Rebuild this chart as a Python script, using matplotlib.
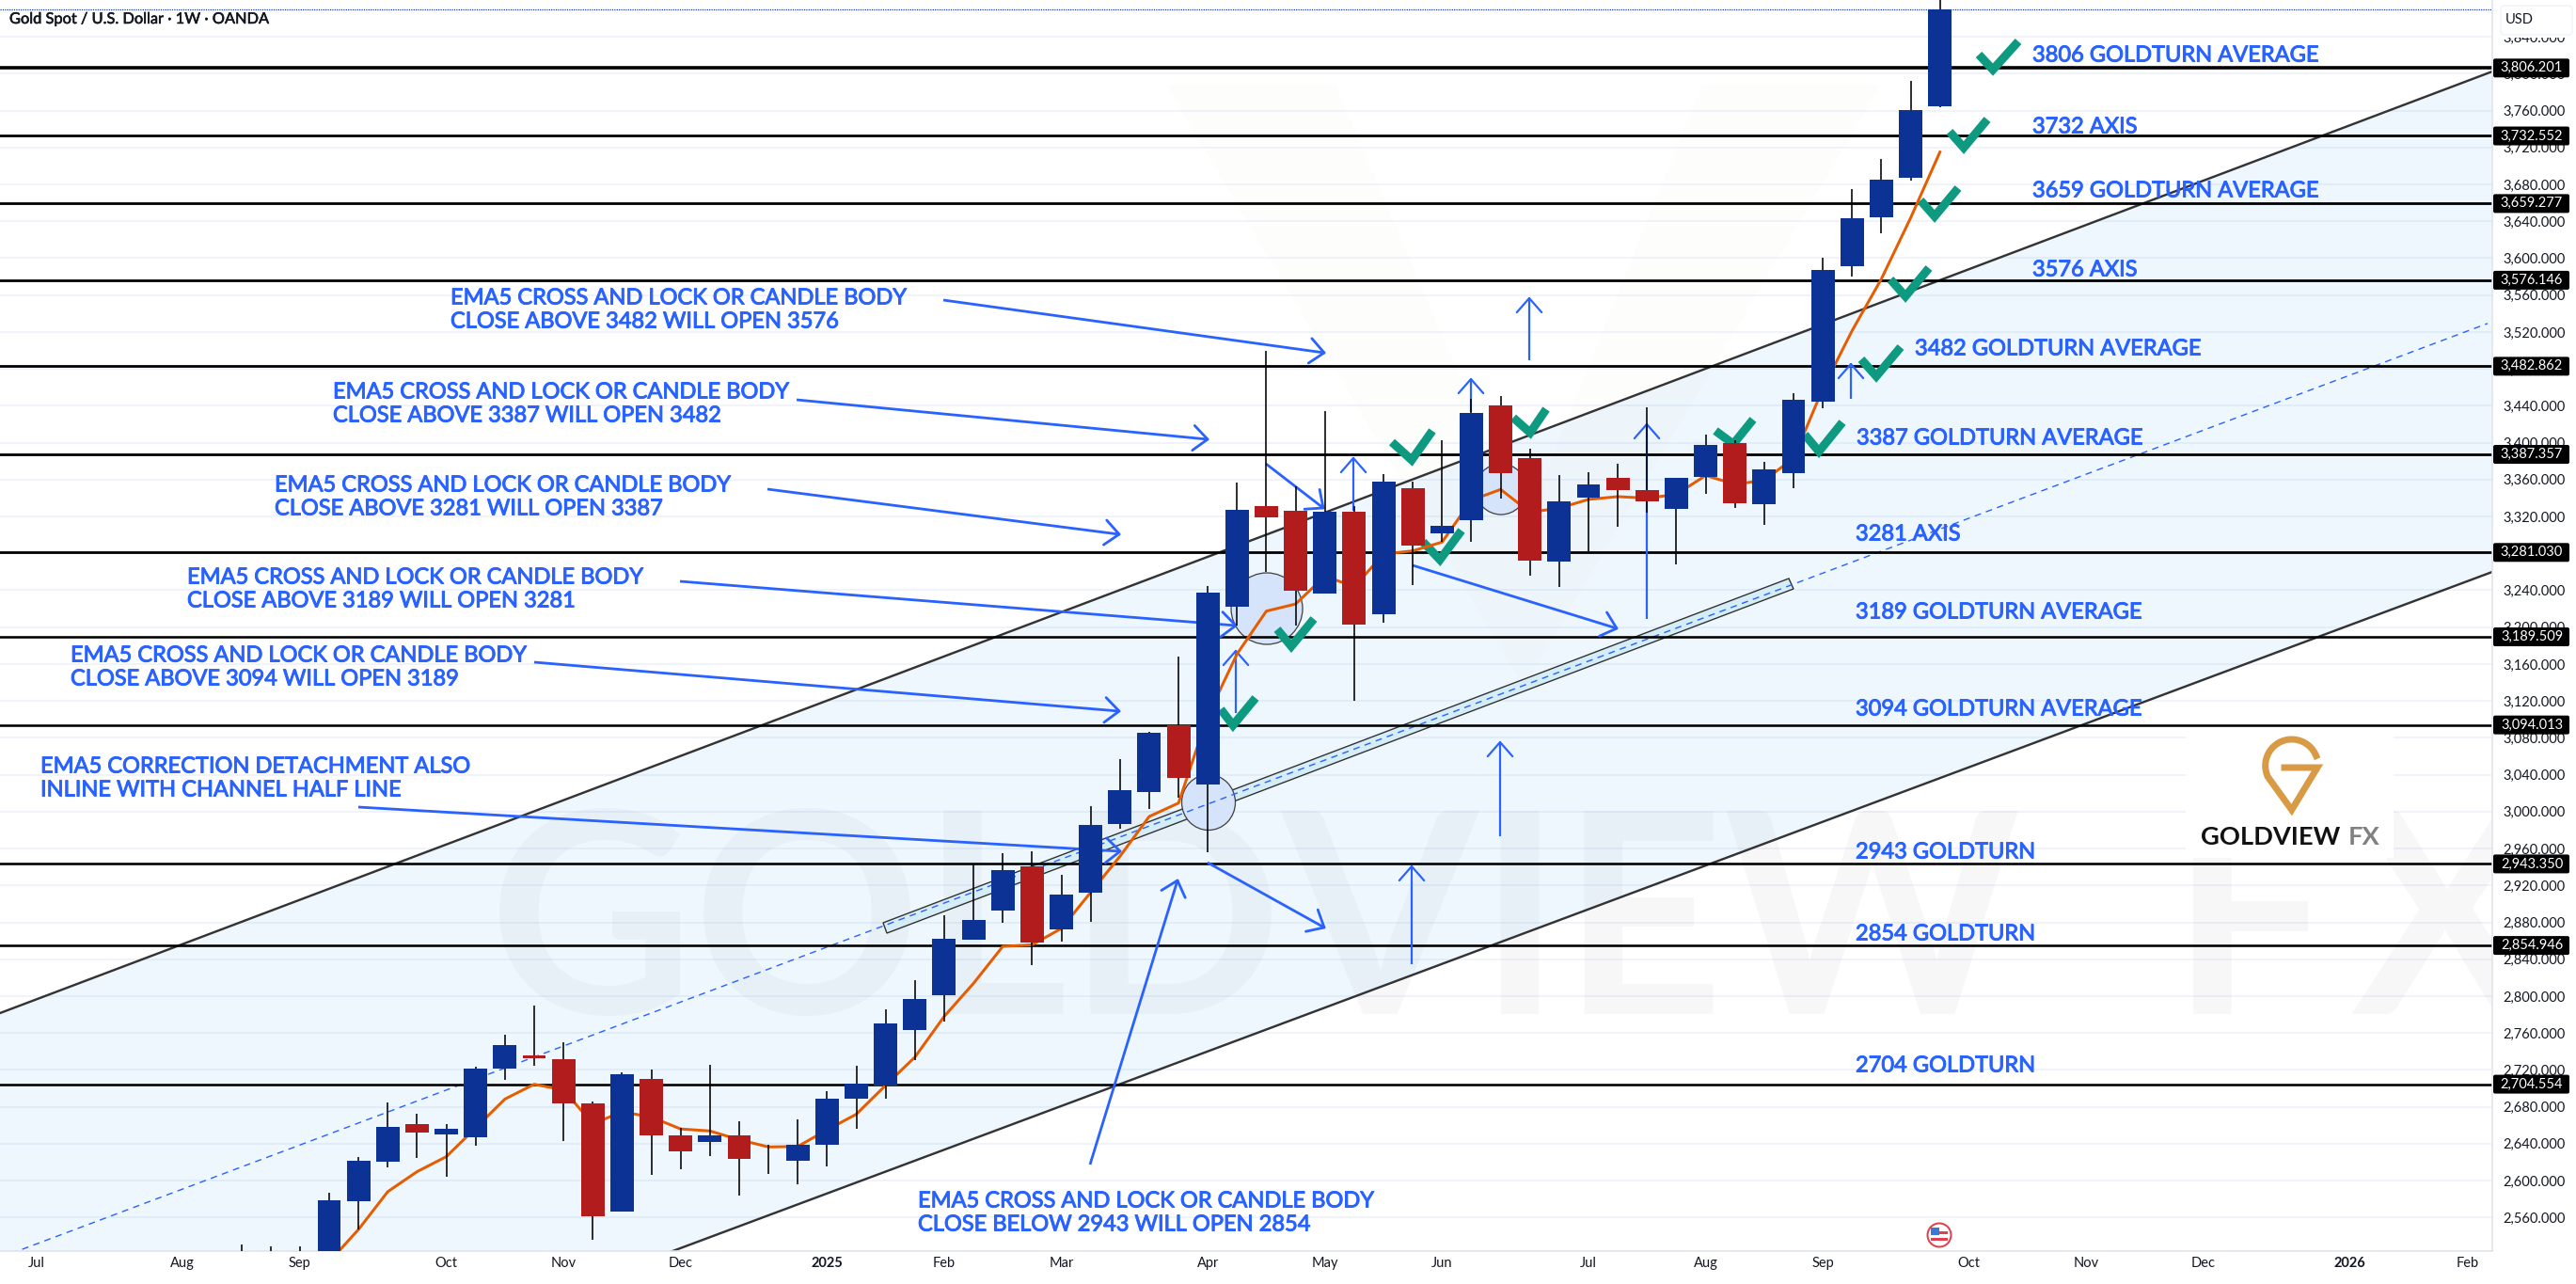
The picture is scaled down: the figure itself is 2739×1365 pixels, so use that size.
import numpy as np
import matplotlib
matplotlib.use('Agg')
import matplotlib.pyplot as plt
import matplotlib.patheffects as pe
from matplotlib.patches import Polygon, Ellipse, FancyBboxPatch, Circle, Rectangle
from matplotlib.transforms import Affine2D

# weekly candles, index 0 is the big blue one at the start of september 2024
weeks = list(range(-3, 56))
opens = [2505, 2512, 2505, 2500, 2578.1, 2620, 2661.6, 2650.3, 2647.3, 2721.7, 2735.9, 2732, 2683.2, 2566,
         2710.4, 2648.6, 2642.1, 2648.6, 2621.8, 2621, 2639, 2688.4, 2702.6, 2763.6, 2800.5, 2860.7, 2892.3,
         2940.3, 2871.9, 2911.7, 2986.8, 3021.4, 3093.2, 3029.6, 3221.7, 3331.5, 3326.3, 3236.8, 3325.5,
         3214.3, 3351, 3302.1, 3316.4, 3440.5, 3383.4, 3270.6, 3340.6, 3362.2, 3348.8, 3328.5, 3363.1,
         3399.9, 3333.7, 3367.4, 3444.9, 3591.4, 3644.8, 3687.3, 3765.1]
highs = [2531, 2529, 2529, 2586.8, 2626, 2684.9, 2672.8, 2661.6, 2723, 2758.4, 2790, 2750.2, 2686.2, 2716.9,
         2720.8, 2657.2, 2726, 2664.6, 2638.7, 2665.9, 2697.4, 2724.7, 2785.6, 2816.8, 2887.2, 2943, 2954.6,
         2956.6, 2931.1, 3005.6, 3057.3, 3086.7, 3167.6, 3244.6, 3357, 3499.8, 3352.7, 3434.5, 3331, 3365.7,
         3357.9, 3402.9, 3447.9, 3450.9, 3393.8, 3365.3, 3368.3, 3377.4, 3438.8, 3362.2, 3408.9, 3402.5,
         3378.7, 3453.5, 3600.6, 3675, 3707.7, 3792.3, 3895]
lows = [2490, 2495, 2490, 2490, 2547, 2614, 2624.8, 2604.5, 2638.2, 2708.7, 2724.2, 2643.4, 2536.2, 2566,
        2605.8, 2612.7, 2627, 2584.2, 2607.5, 2596.3, 2614.9, 2656.4, 2689.2, 2730.3, 2772.3, 2860.7, 2879.1,
        2833.2, 2858.7, 2880.1, 2981.6, 3002.4, 3015.4, 2956.1, 3201.3, 3259.7, 3201.3, 3236, 3120.5, 3204.4,
        3245.5, 3292.2, 3293, 3339.7, 3256.3, 3243.7, 3282.7, 3309.1, 3324.6, 3268.4, 3344.9, 3329.4, 3311.2,
        3351, 3437.5, 3580.2, 3627.1, 3684.6, 3763.8]
closes = [2512, 2505, 2500, 2579, 2621.8, 2658.5, 2652.5, 2656.4, 2721.7, 2747.2, 2732.9, 2683.2, 2561.7,
          2715.6, 2649.5, 2632.2, 2648.6, 2623.1, 2621, 2639, 2689.2, 2704.8, 2770.5, 2797.3, 2861.7, 2882.1,
          2936.2, 2857.7, 2909.7, 2985.2, 3023.6, 3085, 3037, 3237.7, 3327.6, 3318.6, 3239.8, 3325.5, 3203,
          3357.9, 3288.7, 3310.3, 3432.7, 3367.4, 3272.3, 3336.7, 3354.9, 3348.8, 3335.9, 3362.2, 3397.7,
          3334.6, 3371.3, 3447, 3587.3, 3643.4, 3685.2, 3760.7, 3869.8]

ema_weeks = list(range(0, 56))
ema5 = [2512, 2547, 2588, 2609.7, 2626, 2657, 2688.4, 2704.4, 2698.3, 2661.6, 2674.5, 2668.9, 2656, 2653.8,
        2644.3, 2636.5, 2637, 2655, 2672, 2703.3, 2733.9, 2778, 2813.8, 2853.9, 2855.6, 2873.3, 2912.4, 2951.5,
        2994.7, 3009.3, 3104, 3171, 3217.4, 3225.1, 3255.4, 3243.7, 3279.2, 3282.7, 3292.2, 3337.6, 3349.3,
        3324.6, 3329, 3338.5, 3341.5, 3339.8, 3344, 3364.4, 3354.9, 3359.2, 3383, 3458.5, 3521.4, 3577.5,
        3643.8, 3715.1]

levels = [3806.201, 3732.552, 3659.277, 3576.146, 3482.862, 3387.357, 3281.030, 3189.509, 3094.013, 2943.350,
          2854.946, 2704.554]
level_widths = [3.6, 2.8, 2.8, 2.8, 2.8, 2.8, 2.8, 2.6, 2.6, 2.6, 2.6, 2.6]

price_ticks = list(range(2560, 3880, 40))
month_weeks = [-10, -5, -1, 4, 8, 12, 17, 21, 25, 30, 34, 38, 43, 47, 51, 56, 60, 64, 69, 73]
month_labels = ['Jul', 'Aug', 'Sep', 'Oct', 'Nov', 'Dec', '2025', 'Feb', 'Mar', 'Apr', 'May', 'Jun', 'Jul', 'Aug',
                'Sep', 'Oct', 'Nov', 'Dec', '2026', 'Feb']

channel_x = [-11.24, 73.86]
channel_top = [2781.6, 3802.4]
channel_bottom = [2251.4, 3259.9]

# drawings, in pixels of the reference picture
side_notes = [
    ('3806 GOLDTURN AVERAGE', 2161, 58), ('3732 AXIS', 2161, 134), ('3659 GOLDTURN AVERAGE', 2161, 202),
    ('3576 AXIS', 2161, 286), ('3482 GOLDTURN AVERAGE', 2036, 370), ('3387 GOLDTURN AVERAGE', 1974, 465),
    ('3281 AXIS', 1973, 567), ('3189 GOLDTURN AVERAGE', 1973, 650), ('3094 GOLDTURN AVERAGE', 1973, 753),
    ('2943 GOLDTURN', 1973, 905), ('2854 GOLDTURN', 1973, 992), ('2704 GOLDTURN', 1973, 1132),
]
long_notes = [
    ('EMA5 CROSS AND LOCK OR CANDLE BODY', 'CLOSE ABOVE 3482 WILL OPEN 3576', 479, 316),
    ('EMA5 CROSS AND LOCK OR CANDLE BODY', 'CLOSE ABOVE 3387 WILL OPEN 3482', 354, 416),
    ('EMA5 CROSS AND LOCK OR CANDLE BODY', 'CLOSE ABOVE 3281 WILL OPEN 3387', 292, 515),
    ('EMA5 CROSS AND LOCK OR CANDLE BODY', 'CLOSE ABOVE 3189 WILL OPEN 3281', 199, 613),
    ('EMA5 CROSS AND LOCK OR CANDLE BODY', 'CLOSE ABOVE 3094 WILL OPEN 3189', 75, 696),
    ('EMA5 CORRECTION DETACHMENT ALSO', 'INLINE WITH CHANNEL HALF LINE', 43, 814),
    ('EMA5 CROSS AND LOCK OR CANDLE BODY', 'CLOSE BELOW 2943 WILL OPEN 2854', 976, 1276),
]
arrows = [
    (1003, 319, 1408, 375), (847, 425, 1284, 467), (816, 520, 1190, 568), (723, 618, 1314, 665),
    (568, 704, 1190, 756), (381, 858, 1191, 905), (1159, 1238, 1252, 936), (1284, 917, 1408, 986),
    (1502, 601, 1719, 668), (1346, 493, 1407, 540), (1626, 383, 1626, 317), (1564, 438, 1564, 403),
    (1439, 543, 1439, 487), (1751, 658, 1751, 451), (1314, 758, 1314, 692), (1595, 889, 1595, 789),
    (1501, 1025, 1501, 921), (1968, 424, 1968, 387),
]
checks = [
    [(2104, 58), (2119, 74), (2146, 44)], [(2073, 140), (2088, 157), (2113, 127)],
    [(2042, 213), (2057, 230), (2082, 200)], [(2010, 297), (2026, 315), (2051, 285)],
    [(1979, 382), (1995, 400), (2021, 369)], [(1919, 462), (1934, 480), (1959, 449)],
    [(1824, 458), (1843, 472), (1864, 446)], [(1480, 470), (1501, 489), (1523, 458)],
    [(1609, 444), (1627, 460), (1644, 435)], [(1513, 576), (1531, 595), (1554, 564)],
    [(1358, 669), (1373, 687), (1397, 658)], [(1298, 754), (1311, 771), (1335, 742)],
]
circles = [(1285, 853, 57, 59), (1347, 647, 76, 76), (1596, 520, 54, 54)]
half_box = [(939, 981), (943, 992), (1907, 626), (1902, 615)]

BLUE = '#0d3296'
RED = '#b21c1c'
NOTE = '#2962ff'
LABEL_FONT = ['Lato', 'DejaVu Sans']

plt.rcParams['font.family'] = LABEL_FONT

fig = plt.figure(figsize=(27.39, 13.65), dpi=100)
ax = fig.add_axes([0, 35 / 1365, 2650 / 2739, 1330 / 1365])
px = Affine2D().scale(1, -1).translate(0, 1365)


def lw(pixels):
    return pixels * 0.72


heavy = [pe.withStroke(linewidth=0.7, foreground=NOTE)]
heavy_dark = [pe.withStroke(linewidth=0.4, foreground='#131722')]

# grid and watermark
ax.set_axisbelow(True)
ax.grid(axis='y', color='#f0f3fa', linewidth=lw(2))
ax.text(520, 992, 'GOLDVIEW', transform=px, fontsize=216, fontweight='bold', color='black', alpha=0.03,
        va='center', ha='left', clip_on=True, zorder=0.6)
ax.text(2308, 992, 'F', transform=px, fontsize=216, fontweight='bold', color='black', alpha=0.03,
        va='center', ha='left', clip_on=True, zorder=0.6)
ax.text(2500, 992, 'X', transform=px, fontsize=216, fontweight='bold', color='black', alpha=0.03,
        va='center', ha='left', clip_on=True, zorder=0.6)
ax.add_patch(Polygon([(1240, 90), (1420, 90), (1620, 560), (1810, 90), (2000, 90), (1620, 730)], closed=True,
                     transform=px, facecolor='#8a7a50', alpha=0.012, edgecolor='none', zorder=0.6))

# channel
ax.fill_between(channel_x, channel_bottom, channel_top, color='#2196f3', alpha=0.07, linewidth=0, zorder=1)
ax.plot(channel_x, channel_top, color='#333333', linewidth=lw(2.4), zorder=1.5)
ax.plot(channel_x, channel_bottom, color='#333333', linewidth=lw(2.4), zorder=1.5)
mid = (np.array(channel_top) + np.array(channel_bottom)) / 2
ax.plot([channel_x[0], 73.7], [mid[0], mid[0] + (mid[1] - mid[0]) * (73.7 - channel_x[0]) / (channel_x[1] - channel_x[0])],
        color=NOTE, linewidth=lw(1.4), dashes=(5, 4), zorder=1.8)
ax.add_patch(Polygon(half_box, closed=True, transform=px, facecolor='#d5edf7', edgecolor='#333333',
                     linewidth=lw(1.4), zorder=1.6))

for cx, cy, w, h in circles:
    ax.add_patch(Ellipse((cx, cy), w, h, transform=px, facecolor='#d6e4fb', edgecolor='#444444', linewidth=lw(1.3),
                         zorder=1.7))

# levels
for value, width in zip(levels, level_widths):
    ax.axhline(value, color='black', linewidth=lw(width), zorder=2)

# arrows with open heads
for x0, y0, x1, y1 in arrows:
    ang = np.arctan2(y0 - y1, x0 - x1)
    thick = 2.8 if abs(x1 - x0) > 20 else 2.2
    ax.plot([x0, x1], [y0, y1], transform=px, color=NOTE, linewidth=lw(thick), zorder=2.6, solid_capstyle='butt')
    for side in (-0.72, 0.72):
        ax.plot([x1, x1 + 20 * np.cos(ang + side)], [y1, y1 + 20 * np.sin(ang + side)], transform=px, color=NOTE,
                linewidth=lw(thick), zorder=2.6, solid_capstyle='round')

for pts in checks:
    xs, ys = zip(*pts)
    ax.plot(xs, ys, transform=px, color='#0d9a80', linewidth=lw(9), solid_joinstyle='miter', solid_capstyle='butt',
            zorder=2.8)

# ema and candles
ax.plot(ema_weeks, ema5, color='#e65c00', linewidth=lw(3), zorder=3)
bar_colors = [BLUE if c >= o else RED for o, c in zip(opens, closes)]
ax.vlines(weeks, lows, highs, color='black', linewidth=lw(1.6), zorder=4)
ax.bar(weeks, np.abs(np.array(closes) - np.array(opens)), bottom=np.minimum(opens, closes), width=0.8,
       color=bar_colors, linewidth=0, zorder=5)

# notes
for label, x, y in side_notes:
    ax.text(x, y + 1, label, transform=px, color=NOTE, fontsize=17, va='center', ha='left', zorder=6, path_effects=heavy)
for first, second, x, y in long_notes:
    ax.text(x, y + 1, first, transform=px, color=NOTE, fontsize=17, va='center', ha='left', zorder=6, path_effects=heavy)
    ax.text(x, y + 26, second, transform=px, color=NOTE, fontsize=17, va='center', ha='left', zorder=6, path_effects=heavy)
ax.text(10, 21, 'Gold Spot / U.S. Dollar \u00b7 1W \u00b7 OANDA', transform=px, color='#131722', fontsize=11.8,
        va='center', ha='left', zorder=7, path_effects=heavy_dark)

# last price dotted line
ax.axhline(closes[-1], color=BLUE, linewidth=lw(1.2), linestyle=(0, (1, 1)), zorder=2)

# logo bottom right
ax.add_patch(Rectangle((2324, 775), 221, 137, transform=px, facecolor='white', edgecolor='none', zorder=2.2))
arc = np.linspace(np.radians(-22), np.radians(-205), 40)
logo_x = list(2436.7 + 28 * np.cos(arc)) + [2436.7, 2464, 2429]
logo_y = list(814 + 28 * np.sin(arc)) + [861, 816, 816]
ax.plot(logo_x, logo_y, transform=px, color='#d99a45', linewidth=lw(7), solid_joinstyle='miter', zorder=2.4)
ax.text(2340, 890, 'GOLDVIEW', transform=px, color='#111111', fontsize=19.6, fontweight='bold', va='center', zorder=2.4)
ax.text(2497, 890, 'FX', transform=px, color='#808080', fontsize=19.6, fontweight='bold', va='center', zorder=2.4)

# flag on the time axis
ax.add_patch(Circle((2062, 1313), 12.5, transform=px, facecolor='white', edgecolor='#e04050', linewidth=lw(2), zorder=6))
ax.add_patch(Rectangle((2053, 1305), 9, 8, transform=px, facecolor='#3b78d8', edgecolor='none', zorder=6.1))
ax.add_patch(Rectangle((2062, 1309), 9, 3, transform=px, facecolor='#e04050', edgecolor='none', zorder=6.1))
ax.add_patch(Rectangle((2053, 1316), 18, 3, transform=px, facecolor='#e04050', edgecolor='none', zorder=6.1))

# axes
ax.set_xlim(channel_x)
ax.set_ylim(2523.6, 3879.9)
ax.yaxis.tick_right()
ax.set_yticks(price_ticks)
ax.set_yticklabels([f'{p:,.3f}' for p in price_ticks], fontsize=10.5, color='#131722')
ax.set_xticks(month_weeks)
ax.set_xticklabels(month_labels, fontsize=10.5, color='#131722')
for tick_label, text in zip(ax.get_xticklabels(), month_labels):
    if text in ('2025', '2026'):
        tick_label.set_fontweight('bold')
ax.tick_params(axis='y', length=0, pad=8)
ax.tick_params(axis='x', length=0, pad=4)
for side in ('top', 'left'):
    ax.spines[side].set_visible(False)
for side in ('right', 'bottom'):
    ax.spines[side].set_color('#e0e3eb')
    ax.spines[side].set_linewidth(lw(1.6))

# level tags over the price scale
for value in levels:
    y = 72.3 + (3806.2 - value) * 0.9806
    ax.add_patch(FancyBboxPatch((2652, y - 9), 79, 18, boxstyle='round,pad=1,rounding_size=2', transform=px,
                                facecolor='black', edgecolor='none', clip_on=False, zorder=30))
    ax.text(2692, y, f'{value:,.3f}', transform=px, color='white', fontsize=10.5, ha='center', va='center',
            clip_on=False, zorder=31)

# usd box sits over the top of the scale
ax.add_patch(Rectangle((2652, 0), 87, 40, transform=px, facecolor='white', edgecolor='none', clip_on=False, zorder=29))
ax.add_patch(FancyBboxPatch((2660, 7), 74, 29, boxstyle='round,pad=1,rounding_size=4', transform=px, facecolor='white',
                            edgecolor='#f0f3fa', clip_on=False, zorder=30))
ax.text(2679, 21, 'USD', transform=px, color='#131722', fontsize=10.5, ha='center', va='center', clip_on=False, zorder=31)

fig.savefig('out.png', dpi=100, facecolor='white')
